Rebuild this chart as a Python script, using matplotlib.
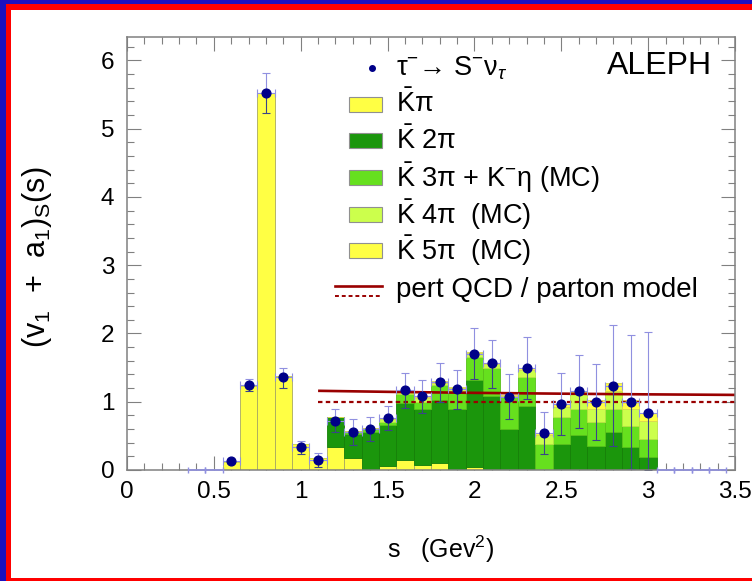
import matplotlib
matplotlib.use("Agg")
import matplotlib.pyplot as plt
from matplotlib.patches import Rectangle
import numpy as np

plt.rcParams['font.family'] = ['Liberation Sans', 'DejaVu Sans']
plt.rcParams['mathtext.fontset'] = 'custom'
plt.rcParams['mathtext.rm'] = 'Liberation Sans'
plt.rcParams['mathtext.it'] = 'Liberation Sans:italic'
plt.rcParams['mathtext.bf'] = 'Liberation Sans:bold'

# ---------------- data ----------------
s_bins = [0.6, 0.7, 0.8, 0.9, 1.0, 1.1, 1.2, 1.3, 1.4, 1.5, 1.6, 1.7, 1.8,
          1.9, 2.0, 2.1, 2.2, 2.3, 2.4, 2.5, 2.6, 2.7, 2.8, 2.9, 3.0]
bin_width = 0.1

k_pi = [0.12, 1.23, 5.52, 1.37, 0.38, 0.18, 0.33, 0.18, 0.0, 0.055, 0.145, 0.08, 0.105,
        0.0, 0.05, 0.0, 0.0, 0.0, 0.0, 0.0, 0.0, 0.0, 0.0, 0.0, 0.0]
k_2pi = [0, 0, 0, 0, 0, 0, 0.44, 0.35, 0.55, 0.605, 0.84, 0.81, 0.925,
         0.89, 1.27, 1.08, 0.60, 0.94, 0.0, 0.38, 0.51, 0.35, 0.56, 0.34, 0.185]
k_3pi_eta = [0, 0, 0, 0, 0, 0, 0.0, 0.04, 0.05, 0.05, 0.135, 0.11, 0.22,
             0.27, 0.34, 0.41, 0.47, 0.42, 0.38, 0.40, 0.39, 0.36, 0.34, 0.30, 0.265]
k_4pi = [0, 0, 0, 0, 0, 0, 0.0, 0.0, 0.01, 0.03, 0.04, 0.06, 0.03,
         0.04, 0.05, 0.06, 0.02, 0.10, 0.13, 0.14, 0.21, 0.19, 0.25, 0.26, 0.27]
k_5pi = [0, 0, 0, 0, 0, 0, 0.0, 0.0, 0.0, 0.01, 0.01, 0.01, 0.02,
         0.01, 0.02, 0.02, 0.01, 0.04, 0.03, 0.05, 0.05, 0.12, 0.13, 0.12, 0.12]

data = [0.13, 1.25, 5.52, 1.36, 0.33, 0.15, 0.72, 0.56, 0.60, 0.76, 1.17, 1.08, 1.29,
        1.19, 1.70, 1.57, 1.07, 1.49, 0.54, 0.97, 1.16, 1.00, 1.235, 1.00, 0.84]
err_up = [0.03, 0.09, 0.29, 0.14, 0.10, 0.10, 0.17, 0.19, 0.18, 0.18, 0.25, 0.24, 0.28,
          0.28, 0.38, 0.34, 0.34, 0.46, 0.31, 0.45, 0.53, 0.55, 0.89, 0.98, 1.18]
err_lo = [0.03, 0.09, 0.29, 0.16, 0.10, 0.10, 0.17, 0.19, 0.18, 0.18, 0.26, 0.25, 0.29,
          0.29, 0.36, 0.37, 0.32, 0.45, 0.31, 0.45, 0.55, 0.56, 0.89, 0.99, 0.84]

empty_bins = [0.4, 0.5, 3.1, 3.2, 3.3, 3.4]
empty_vals = [0, 0, 0, 0, 0, 0]

qcd_s = [1.1, 1.5, 2.0, 2.5, 3.0, 3.5]
qcd_pert = [1.16, 1.145, 1.13, 1.118, 1.108, 1.10]
parton_s = [1.1, 3.5]
parton = [1.0, 1.0]

components = [
    (k_pi, '#ffff44', '#a8a860', r'$\bar{\mathrm{K}}$π'),
    (k_2pi, '#1b960c', '#168008', r'$\bar{\mathrm{K}}$ 2π'),
    (k_3pi_eta, '#66e01e', '#58c01a', r'$\bar{\mathrm{K}}$ 3π + K$^{-}$η (MC)'),
    (k_4pi, '#ccff4c', '#b8e444', r'$\bar{\mathrm{K}}$ 4π  (MC)'),
    (k_5pi, '#ffff44', '#d8d850', r'$\bar{\mathrm{K}}$ 5π  (MC)'),
]

# ---------------- figure ----------------
W, H = 752, 581
fig = plt.figure(figsize=(W / 100, H / 100), dpi=100)
ax = fig.add_axes([127 / W, 1 - 470 / H, 608 / W, 433.5 / H])

bottom = np.zeros(len(s_bins))
for vals, fc, ec, lab in components:
    v = np.array(vals, dtype=float)
    ax.bar(s_bins, v, width=bin_width, bottom=bottom, color=fc,
           edgecolor=ec, linewidth=0.6, zorder=2)
    bottom = bottom + v

ax.plot(qcd_s, qcd_pert, color='#990000', lw=1.9, zorder=3, solid_capstyle='butt')
ax.plot(parton_s, parton, color='#990000', lw=1.6, dashes=(2.0, 1.5), zorder=3)

# data error bars: upper part light, lower part dark
ax.errorbar(s_bins, data, xerr=bin_width / 2, yerr=[np.zeros(len(data)), err_up],
            fmt='none', ecolor='#9090e0', elinewidth=0.8, capsize=3.2, capthick=0.8, zorder=4)
ax.errorbar(s_bins, data, yerr=[err_lo, np.zeros(len(data))],
            fmt='none', ecolor='#3a4488', elinewidth=0.8, capsize=3.2, capthick=0.8, zorder=4)
ax.errorbar(empty_bins, empty_vals, xerr=bin_width / 2, fmt='none', ecolor='#9090e0',
            elinewidth=1.2, capsize=2.5, zorder=6, clip_on=False)
ax.plot(s_bins, data, 'o', color='#000088', markersize=6.3, zorder=5, linestyle='none')

ax.set_xlim(0, 3.5)
ax.set_ylim(0, 6.35)
ax.set_xticks([0, 0.5, 1, 1.5, 2, 2.5, 3, 3.5])
ax.set_xticklabels(['0', '0.5', '1', '1.5', '2', '2.5', '3', '3.5'])
ax.set_yticks([0, 1, 2, 3, 4, 5, 6])
ax.set_xticks(np.arange(0, 3.5001, 0.1), minor=True)
ax.set_yticks(np.arange(0, 6.35, 0.2), minor=True)
ax.tick_params(which='both', direction='in', top=True, right=True, color='#808080',
               width=0.8, labelsize=17.5)
ax.tick_params(which='major', length=10)
ax.tick_params(which='minor', length=5)
ax.tick_params(axis='x', pad=8)
ax.tick_params(axis='y', pad=9)
for sp in ax.spines.values():
    sp.set_color('#808080')
    sp.set_linewidth(1.1)
    sp.set_zorder(5)

ax.set_xlabel('s   (Gev$^{2}$)', fontsize=18)
ax.xaxis.set_label_coords(0.515, -0.146)
ax.set_ylabel('(v$_{1}$  +  a$_{1}$)$_{\\mathregular{S}}$(s)', fontsize=22)
ax.yaxis.set_label_coords(-0.12, 0.49)

# ALEPH label
ax.text((712 - 127) / 608, (470 - 66) / 433.5, 'ALEPH', transform=ax.transAxes,
        ha='right', va='center', fontsize=23)

# ---------------- legend (hand placed) ----------------
def ax_xy(px, py):
    return ((px - 127) / 608, (470 - py) / 433.5)

tx = 396
mx, my = ax_xy(372, 68)
ax.plot([mx], [my], 'o', color='#000088', markersize=4, transform=ax.transAxes, clip_on=False)
x0, y0 = ax_xy(tx, 68)
ax.text(x0, y0, r'τ$^{-}$→ S$^{-}$ν$_{τ}$', transform=ax.transAxes, ha='left',
        va='center', fontsize=19.5)
box_y = [104, 140.5, 177.5, 214.5, 250.5]
for (vals, fc, ec, lab), by in zip(components, box_y):
    bx0, by0 = ax_xy(349, by + 7.5)
    bw, bh = 33 / 608, 15 / 433.5
    ax.add_patch(Rectangle((bx0, by0), bw, bh, transform=ax.transAxes, facecolor=fc,
                           edgecolor='#909090', linewidth=0.8, clip_on=False))
    lx, ly = ax_xy(tx, by)
    ax.text(lx, ly, lab, transform=ax.transAxes, ha='left', va='center', fontsize=19.5)
l0, ly1 = ax_xy(335, 286)
l1, _ = ax_xy(382, 286)
_, ly2 = ax_xy(335, 296)
ax.plot([l0, l1], [ly1, ly1], color='#990000', lw=1.9, transform=ax.transAxes, clip_on=False)
ax.plot([l0, l1], [ly2, ly2], color='#990000', lw=1.4, dashes=(2.0, 1.5),
        transform=ax.transAxes, clip_on=False)
lx, ly = ax_xy(tx, 290)
ax.text(lx, ly, 'pert QCD / parton model', transform=ax.transAxes, ha='left',
        va='center', fontsize=20)

# ---------------- frame border ----------------
def fr(x0, y0, x1, y1, c):
    fig.patches.append(Rectangle((x0 / W, 1 - y1 / H), (x1 - x0) / W, (y1 - y0) / H,
                                 transform=fig.transFigure, facecolor=c, edgecolor='none',
                                 zorder=10))

fr(0, 0, 5.5, H, '#1c10c0')
fr(0, 0, W, 4, '#1c10c0')
fr(5.5, 4, 11, H, '#ff0000')
fr(5.5, 4, W, 10, '#ff0000')
fr(5.5, 578, W, H, '#ff0000')

fig.savefig('out.png', dpi=100)
